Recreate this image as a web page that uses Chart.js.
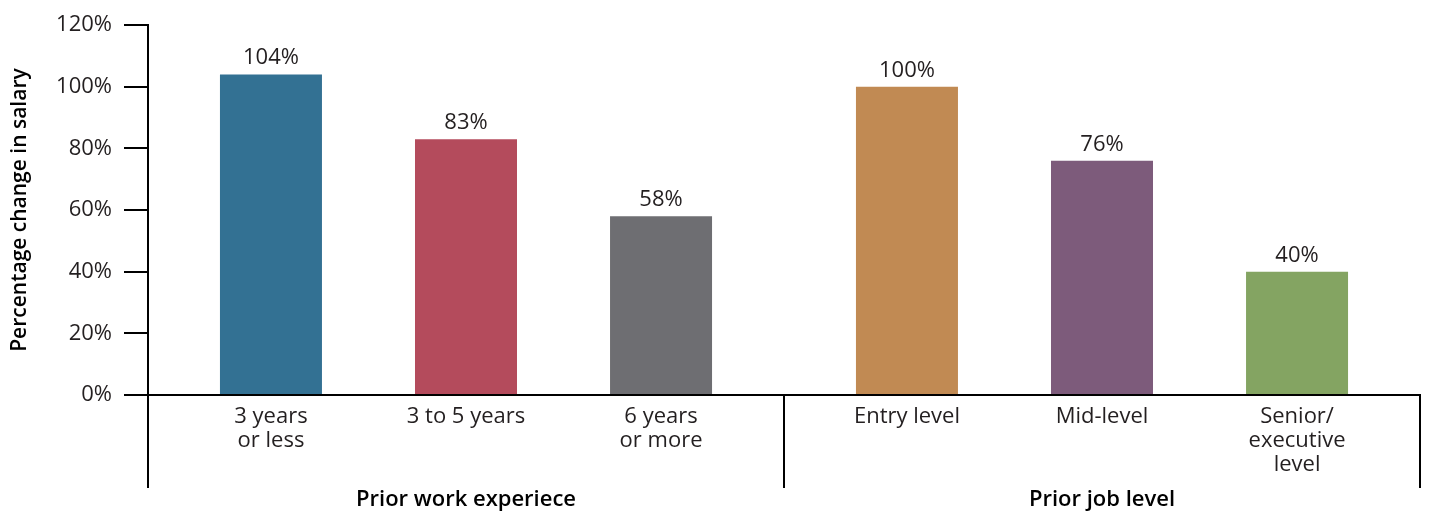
<!DOCTYPE html>
<html>
<head>
<meta charset="utf-8">
<script src="https://cdn.jsdelivr.net/npm/chart.js@4.4.1/dist/chart.umd.min.js"></script>
<style>
  html, body { margin: 0; padding: 0; background: #fff; }
  #wrap { width: 1431px; height: 511px; position: relative; }
</style>
</head>
<body>
<div id="wrap"><canvas id="chart1"></canvas></div>
<script>
// data
var groups = ['Prior work experiece', 'Prior job level'];
var experienceLabels = [['3 years', 'or less'], ['3 to 5 years'], ['6 years', 'or more']];
var experienceValues = [104, 83, 58];
var levelLabels = [['Entry level'], ['Mid-level'], ['Senior/', 'executive', 'level']];
var levelValues = [100, 76, 40];
var yTicks = [0, 20, 40, 60, 80, 100, 120];

var experienceColors = ['#337193', '#b44b5c', '#6e6e72'];
var levelColors = ['#c18a53', '#7d5b7b', '#84a462'];

var FONT = "'Open Sans', 'Noto Sans', sans-serif";

var datasets = [];
for (var i = 0; i < 3; i++) {
  datasets.push({
    label: 'bar' + i,
    data: [experienceValues[i], levelValues[i]],
    subLabels: [experienceLabels[i], levelLabels[i]],
    backgroundColor: [experienceColors[i], levelColors[i]],
    borderWidth: 0,
    categoryPercentage: 0.92,
    barPercentage: 0.523
  });
}

// value labels above bars + sub labels under each bar
var barText = {
  id: 'barText',
  afterDatasetsDraw: function(chart) {
    var ctx = chart.ctx;
    var bottom = chart.chartArea.bottom;
    ctx.save();
    ctx.fillStyle = '#231f20';
    ctx.font = '22px ' + FONT;
    ctx.textAlign = 'center';
    chart.data.datasets.forEach(function(ds, di) {
      var meta = chart.getDatasetMeta(di);
      meta.data.forEach(function(bar, j) {
        ctx.textBaseline = 'alphabetic';
        ctx.fillText(ds.data[j] + '%', bar.x, bar.y - 10);
        ctx.textBaseline = 'middle';
        ds.subLabels[j].forEach(function(line, k) {
          ctx.fillText(line, bar.x, bottom + 22 + k * 24);
        });
      });
    });
    ctx.restore();
  }
};

var ctx = document.getElementById('chart1').getContext('2d');

var myChart = new Chart(ctx, {
  type: 'bar',
  data: {
    labels: groups,
    datasets: datasets
  },
  plugins: [barText],
  options: {
    responsive: true,
    maintainAspectRatio: false,
    animation: false,
    layout: {
      padding: { top: 16, right: 11, bottom: 0, left: 8 }
    },
    plugins: {
      legend: { display: false },
      tooltip: { enabled: false }
    },
    scales: {
      x: {
        border: { display: true, color: '#000', width: 2 },
        grid: {
          offset: true,
          drawOnChartArea: false,
          drawTicks: true,
          tickLength: 93,
          color: '#000',
          lineWidth: 2
        },
        ticks: {
          padding: 0,
          color: '#000',
          font: { family: FONT, size: 22, weight: '600', lineHeight: 1.05 }
        }
      },
      y: {
        min: 0,
        max: 120,
        afterBuildTicks: function(scale) {
          scale.ticks = yTicks.map(function(v) { return { value: v }; });
        },
        afterFit: function(scale) { scale.width = 140; },
        border: { display: true, color: '#000', width: 2 },
        grid: {
          drawOnChartArea: false,
          tickLength: 24,
          color: '#000',
          lineWidth: 2
        },
        ticks: {
          padding: 12,
          color: '#231f20',
          font: { family: FONT, size: 22 },
          callback: function(v) { return v + '%'; }
        },
        title: {
          display: true,
          text: 'Percentage change in salary',
          color: '#000',
          padding: { top: 0, bottom: 0 },
          font: { family: FONT, size: 21, weight: '600', lineHeight: 1.1 }
        }
      }
    }
  }
});
</script>
</body>
</html>
